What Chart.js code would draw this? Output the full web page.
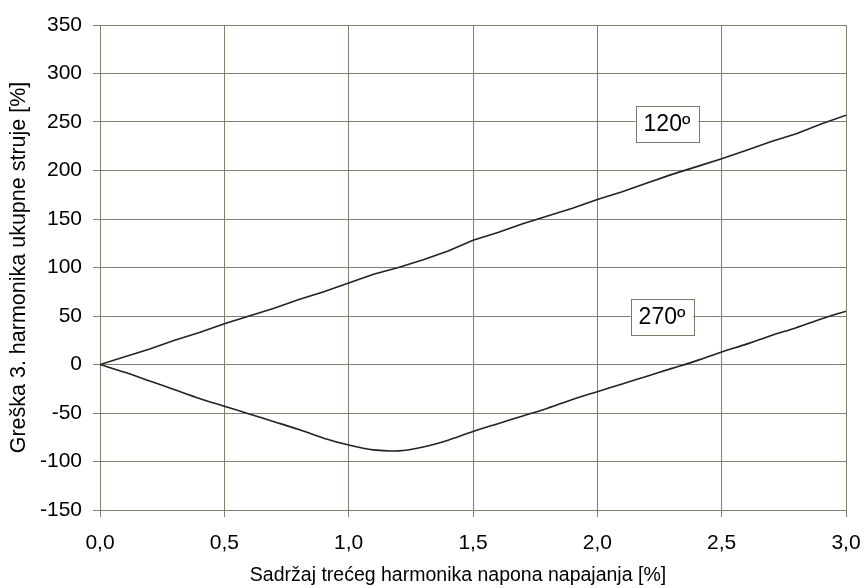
<!DOCTYPE html>
<html>
<head>
<meta charset="utf-8">
<script src="https://cdn.jsdelivr.net/npm/chart.js@4"></script>
<style>
html,body{margin:0;padding:0;background:#fff;}
#wrap{width:864px;height:588px;}
</style>
</head>
<body>
<div id="wrap"><canvas id="chart" width="864" height="588"></canvas></div>
<script>
// data
const xs=[0,0.1,0.2,0.3,0.4,0.5,0.6,0.7,0.8,0.9,1.0,1.1,1.2,1.3,1.4,1.5,1.6,1.7,1.8,1.9,2.0,2.1,2.2,2.3,2.4,2.5,2.6,2.7,2.8,2.9,3.0];
const s120=[0,8,16,25,33,42,50,58,67,75,84,93,100,108,117,128,136,145,153,161,170,178,187,196,204,212,221,230,238,248,257];
const s270=[0,-8,-17,-26,-35,-43,-51,-59,-67,-76,-83,-88,-89,-85,-78,-69,-61,-53,-45,-36,-28,-20,-12,-4,4,13,21,30,38,47,55];
const labels=["120º","270º"];
const labelPos=[[2.28,248],[2.26,49]];
const xTitle="Sadržaj trećeg harmonika napona napajanja [%]";
const yTitle="Greška 3. harmonika ukupne struje [%]";

const font="'Liberation Sans', Arial, sans-serif";
const gridCol="#80806f";

function pts(ys){return xs.map((x,i)=>({x:x,y:ys[i]}));}

// boxed series labels + x axis title
const boxLabels={
id:"boxLabels",
afterDatasetsDraw(c){
const ctx=c.ctx;
ctx.save();
ctx.font="23px "+font;
ctx.textAlign="center";
ctx.textBaseline="middle";
labels.forEach((t,i)=>{
const px=c.scales.x.getPixelForValue(labelPos[i][0]);
const py=c.scales.y.getPixelForValue(labelPos[i][1]);
const w=ctx.measureText(t).width+16;
const h=36;
ctx.fillStyle="#fff";
ctx.fillRect(px-w/2,py-h/2,w,h);
ctx.strokeStyle="#7a7a6a";
ctx.lineWidth=1;
ctx.strokeRect(Math.round(px-w/2)+0.5,Math.round(py-h/2)+0.5,Math.round(w),h);
ctx.fillStyle="#000";
ctx.fillText(t,px,py+1);
});
ctx.font="19.5px "+font;
ctx.fillText(xTitle,458,576);
ctx.restore();
}
};

const ctx=document.getElementById("chart").getContext("2d");
new Chart(ctx,{
type:"line",
data:{
datasets:[
{label:"120º",data:pts(s120),borderColor:"#222",borderWidth:1.6,pointRadius:0,tension:0},
{label:"270º",data:pts(s270),borderColor:"#222",borderWidth:1.6,pointRadius:0,tension:0.3}
]
},
options:{
responsive:false,
animation:false,
layout:{padding:{top:25,right:18,left:0,bottom:0}},
plugins:{legend:{display:false},tooltip:{enabled:false}},
scales:{
x:{
type:"linear",min:0,max:3,
ticks:{stepSize:0.5,color:"#000",font:{family:font,size:21},padding:14,
callback:v=>v.toFixed(1).replace(".",",")},
grid:{color:gridCol,lineWidth:1,tickLength:7},
border:{color:gridCol},
afterFit(s){s.height=78;s.paddingRight=0;s.paddingLeft=0;}
},
y:{
min:-150,max:350,
ticks:{stepSize:50,color:"#000",font:{family:font,size:21},padding:11},
grid:{color:gridCol,lineWidth:1,tickLength:7},
border:{color:gridCol},
title:{display:true,text:yTitle,color:"#000",
font:{family:font,size:21.5},padding:{top:6,bottom:0}},
afterFit(s){s.width=100;s.paddingTop=0;s.paddingBottom=0;}
}
}
},
plugins:[boxLabels]
});
</script>
</body>
</html>
